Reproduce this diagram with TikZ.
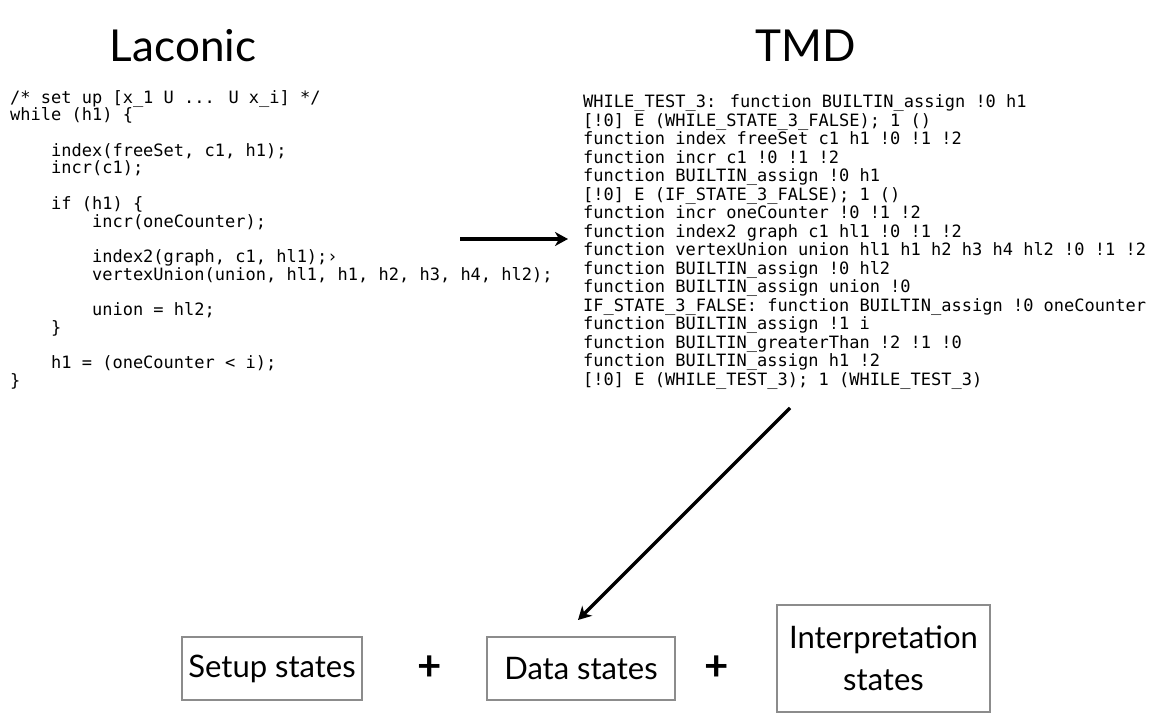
\documentclass[tikz,border=0pt]{standalone}
\usepackage{fontspec}
\setmainfont{Lato}
\newfontfamily\codefont{DejaVu Sans Mono}
\usetikzlibrary{arrows.meta}
\begin{document}
\begin{tikzpicture}[x=1pt,y=-1pt,
  codeL/.style={anchor=north west, inner sep=0pt, align=left, font=\codefont\fontsize{17}{17.7}\selectfont},
  codeR/.style={anchor=north west, inner sep=0pt, align=left, font=\codefont\fontsize{17}{18.5}\selectfont},
  titletext/.style={anchor=base, inner sep=0pt, font=\fontsize{44}{50}\selectfont},
  statebox/.style={draw=black!45, line width=1.8pt, inner sep=0pt, font=\fontsize{31}{42}\selectfont, align=center},
  plus/.style={font=\bfseries\fontsize{42}{44}\selectfont, inner sep=0pt},
  bigarrow/.style={line width=3.2pt, -{Stealth[length=13pt,width=14pt,inset=4pt]}}]
\useasboundingbox (0,0) rectangle (1159,719);
\def\ind{\phantom{0000}}
\node[titletext] (tL) at (183,62) {Laconic};
\node[titletext] (tR) at (806,62) {TMD};
\node[codeL] (lac) at (10,90) {%
/* set up [x\_1 U ... U x\_i] */\\
while (h1) \{\\
\mbox{}\\
\ind index(freeSet, c1, h1);\\
\ind incr(c1);\\
\mbox{}\\
\ind if (h1) \{\\
\ind\ind incr(oneCounter);\\
\mbox{}\\
\ind\ind index2(graph, c1, hl1);›\\
\ind\ind vertexUnion(union, hl1, h1, h2, h3, h4, hl2);\\
\mbox{}\\
\ind\ind union = hl2;\\
\ind\}\\
\mbox{}\\
\ind h1 = (oneCounter < i);\\
\}};
\node[codeR] (tmd) at (583,94.5) {%
WHILE\_TEST\_3: function BUILTIN\_assign !0 h1\\
\relax[!0] E (WHILE\_STATE\_3\_FALSE); 1 ()\\
function index freeSet c1 h1 !0 !1 !2\\
function incr c1 !0 !1 !2\\
function BUILTIN\_assign !0 h1\\
\relax[!0] E (IF\_STATE\_3\_FALSE); 1 ()\\
function incr oneCounter !0 !1 !2\\
function index2 graph c1 hl1 !0 !1 !2\\
function vertexUnion union hl1 h1 h2 h3 h4 hl2 !0 !1 !2\\
function BUILTIN\_assign !0 hl2\\
function BUILTIN\_assign union !0\\
IF\_STATE\_3\_FALSE: function BUILTIN\_assign !0 oneCounter\\
function BUILTIN\_assign !1 i\\
function BUILTIN\_greaterThan !2 !1 !0\\
function BUILTIN\_assign h1 !2\\
\relax[!0] E (WHILE\_TEST\_3); 1 (WHILE\_TEST\_3)};
\node[statebox, minimum width=180pt, minimum height=63pt] (setup) at (272,668.5) {Setup states};
\node[statebox, minimum width=188pt, minimum height=63pt] (data) at (581,668.5) {Data states};
\node[statebox, minimum width=213pt, minimum height=107pt] (interp) at (883.5,658.5) {Interpretation\\states};
\node[plus] (p1) at (430,668) {+};
\node[plus] (p2) at (717,668) {+};
\coordinate (a1s) at (460,239);
\coordinate (a1e) at (568,239);
\coordinate (a2s) at (790,408);
\coordinate (a2e) at (578,620);
\draw[bigarrow] (a1s) -- (a1e);
\draw[bigarrow] (a2s) -- (a2e);
\end{tikzpicture}
\end{document}
